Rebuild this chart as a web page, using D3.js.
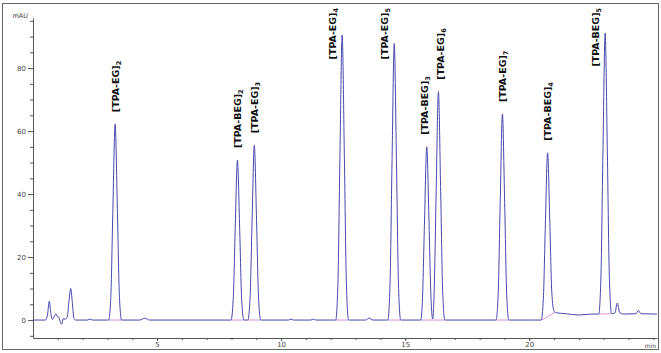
<!DOCTYPE html>
<html lang="en">
<head>
<meta charset="utf-8">
<title>Chromatogram</title>
<script src="https://cdn.jsdelivr.net/npm/d3@7"></script>
<style>
  body { margin: 0; background: #fff; }
  .tick text { font-family: "DejaVu Sans", sans-serif; font-size: 7px; fill: #444; }
  .tick line, .domain { stroke: #555; }
</style>
</head>
<body>
<script>

// trace (time in min, signal in mAU)
var traceTime = [0, 0.5, 0.58, 0.66, 0.72, 0.78, 0.86, 0.93, 0.99, 1.04, 1.09, 1.16, 1.21, 1.3, 1.38, 1.45, 1.52, 1.58, 1.65, 1.72,
  2.2, 2.3, 2.4,
  3.05, 3.14, 3.22, 3.31, 3.40, 3.48, 3.57,
  4.3, 4.5, 4.7,
  7.98, 8.07, 8.15, 8.24, 8.33, 8.41, 8.50,
  8.66, 8.75, 8.83, 8.92, 9.01, 9.09, 9.18,
  10.3, 10.4, 10.5, 11.2, 11.3, 11.4,
  12.20, 12.29, 12.37, 12.46, 12.55, 12.63, 12.72,
  13.4, 13.55, 13.7,
  14.30, 14.39, 14.47, 14.56, 14.65, 14.73, 14.82,
  15.63, 15.70, 15.78, 15.87, 15.96, 16.04, 16.11,
  16.17, 16.25, 16.34, 16.43, 16.51, 16.60,
  18.66, 18.75, 18.83, 18.92, 19.01, 19.09, 19.18,
  20.0, 20.48, 20.57, 20.65, 20.74, 20.83, 20.91, 21.00, 21.10,
  21.5, 22.0, 22.5,
  22.80, 22.89, 22.97, 23.06, 23.15, 23.23, 23.32,
  23.45, 23.55, 23.65, 23.8, 24.3, 24.4, 24.5, 25.15];
var traceMAU = [0, 0, 1.5, 6, 2, 0.2, 1.2, 2, 1, 0.9, -0.4, -1.3, 0.4, 0.3, 1, 6, 10, 6, 0.5, 0,
  0, 0.3, 0,
  0, 8.1, 35.5, 62.2, 35.5, 8.1, 0,
  0, 0.6, 0,
  0, 6.6, 29.0, 50.8, 29.0, 6.6, 0,
  0, 7.2, 31.6, 55.5, 31.6, 7.2, 0,
  0, 0.3, 0, 0, 0.3, 0,
  0, 11.8, 51.6, 90.5, 51.6, 11.8, 0,
  0, 0.6, 0,
  0, 11.4, 50.0, 87.8, 50.0, 11.4, 0,
  0, 7.2, 31.4, 55.0, 31.4, 7.2, 0.3,
  9.4, 41.3, 72.5, 41.3, 9.4, 0,
  0, 8.5, 37.3, 65.4, 37.3, 8.5, 0,
  0, 0, 6.9, 30.3, 53.1, 31.0, 8.8, 2.8, 2.3,
  2.0, 1.6, 1.9,
  1.9, 13.5, 52.7, 91.1, 52.7, 13.5, 2.0,
  2.2, 5.4, 2.3, 1.9, 2.0, 3.0, 2.0, 1.9];

// labelled peaks
var peakTime = [3.31, 8.24, 8.92, 12.46, 14.56, 15.87, 16.34, 18.92, 20.74, 23.06];
var peakMAU = [62.2, 50.8, 55.5, 90.5, 87.8, 55.0, 72.5, 65.4, 53.1, 91.1];
var peakName = ["[TPA-EG]", "[TPA-BEG]", "[TPA-EG]", "[TPA-EG]", "[TPA-EG]", "[TPA-BEG]", "[TPA-EG]", "[TPA-EG]", "[TPA-BEG]", "[TPA-BEG]"];
var peakSub = ["2", "2", "3", "4", "5", "3", "6", "7", "4", "5"];

// integration baselines (pink)
var integStart = [3.08, 8.00, 8.68, 12.22, 14.32, 15.65, 16.12, 18.68, 20.50, 22.82];
var integEnd = [3.55, 8.48, 9.16, 12.70, 14.80, 16.10, 16.58, 19.16, 21.05, 23.30];
var integStartMAU = [0, 0, 0, 0, 0, 0, 0, 0, 0, 1.9];
var integEndMAU = [0, 0, 0, 0, 0, 0, 0, 0, 2.5, 2.0];

var yMajor = [0, 20, 40, 60, 80];
var yMinor = [-5, 5, 10, 15, 25, 30, 35, 45, 50, 55, 65, 70, 75, 85, 90, 95];
var xMajor = [5, 10, 15, 20];
var xMinor = d3.range(1, 26);

var W = 661, H = 353;
var svg = d3.select("body").append("svg")
  .attr("width", W)
  .attr("height", H);

var x = d3.scaleLinear().domain([0, 25.15]).range([33, 657]);
var y = d3.scaleLinear().domain([-5.7, 95.9]).range([338, 18]);

// outer frame
svg.append("rect")
  .attr("x", 2.5).attr("y", 3.5)
  .attr("width", 656).attr("height", 346)
  .attr("fill", "none")
  .attr("stroke", "#666");

// y axis
svg.append("g")
  .attr("transform", "translate(33,0)")
  .call(d3.axisLeft(y).tickValues(yMinor).tickSize(3).tickFormat(""))
  .select(".domain").remove();
svg.append("g")
  .attr("transform", "translate(33,0)")
  .call(d3.axisLeft(y).tickValues(yMajor).tickSize(5).tickSizeOuter(0).tickPadding(2).tickFormat(d3.format("d")));

svg.append("text")
  .attr("x", 28).attr("y", 18)
  .attr("text-anchor", "end")
  .style("font-family", "DejaVu Sans, sans-serif")
  .style("font-size", "6.5px")
  .attr("fill", "#444")
  .text("mAU");

// x axis
svg.append("g")
  .attr("transform", "translate(0,338)")
  .call(d3.axisBottom(x).tickValues(xMinor).tickSize(2).tickFormat(""))
  .select(".domain").remove();
svg.append("g")
  .attr("transform", "translate(0,338)")
  .call(d3.axisBottom(x).tickValues(xMajor).tickSize(3).tickSizeOuter(0).tickPadding(1).tickFormat(d3.format("d")));

svg.append("text")
  .attr("x", 656).attr("y", 348)
  .attr("text-anchor", "end")
  .style("font-family", "DejaVu Sans, sans-serif")
  .style("font-size", "6px")
  .attr("fill", "#444")
  .text("min");

// pink integration baselines
svg.selectAll(".integ")
  .data(integStart)
  .enter()
  .append("line")
  .attr("class", "integ")
  .attr("x1", function(d) { return x(d); })
  .attr("y1", function(d, i) { return y(integStartMAU[i]); })
  .attr("x2", function(d, i) { return x(integEnd[i]); })
  .attr("y2", function(d, i) { return y(integEndMAU[i]); })
  .attr("stroke", "#e58ad8")
  .attr("stroke-width", 1);

// the trace
var pts = traceTime.map(function(t, i) { return [t, traceMAU[i]]; });
var line = d3.line()
  .x(function(d) { return x(d[0]); })
  .y(function(d) { return y(d[1]); })
  .curve(d3.curveMonotoneX);

svg.append("path")
  .datum(pts)
  .attr("d", line)
  .attr("fill", "none")
  .attr("stroke", "#4747ad")
  .attr("stroke-width", 1);

// peak labels, rotated; put beside the peak when there is no room above
var labels = svg.selectAll(".lab")
  .data(peakTime)
  .enter()
  .append("text")
  .attr("class", "lab")
  .style("font-family", "DejaVu Sans, sans-serif")
  .style("font-size", "9.5px")
  .style("font-weight", "bold")
  .attr("fill", "#111");

labels.append("tspan").text(function(d, i) { return peakName[i]; });
labels.append("tspan")
  .attr("dy", 2)
  .style("font-size", "6.5px")
  .text(function(d, i) { return peakSub[i]; });

var lx = [];
labels.each(function(d, i) {
  var len = this.getComputedTextLength();
  var px = x(d), py = y(peakMAU[i]);
  var bottom = py - 12;
  if (bottom - len < 8) {
    lx.push({ x: px - 10, y: 8, anchor: "end" });
  } else {
    lx.push({ x: px, y: bottom, anchor: "start" });
  }
});

// nudge labels that sit too close to each other
for (var k = 1; k < lx.length; k++) {
  var gap = lx[k].x - lx[k - 1].x;
  if (gap < 16) {
    lx[k - 1].x -= (16 - gap) / 2;
    lx[k].x += (16 - gap) / 2;
  }
}

labels
  .attr("text-anchor", function(d, i) { return lx[i].anchor; })
  .attr("transform", function(d, i) {
    return "translate(" + (lx[i].x + 3.5) + "," + lx[i].y + ") rotate(-90)";
  });

</script>
</body>
</html>
